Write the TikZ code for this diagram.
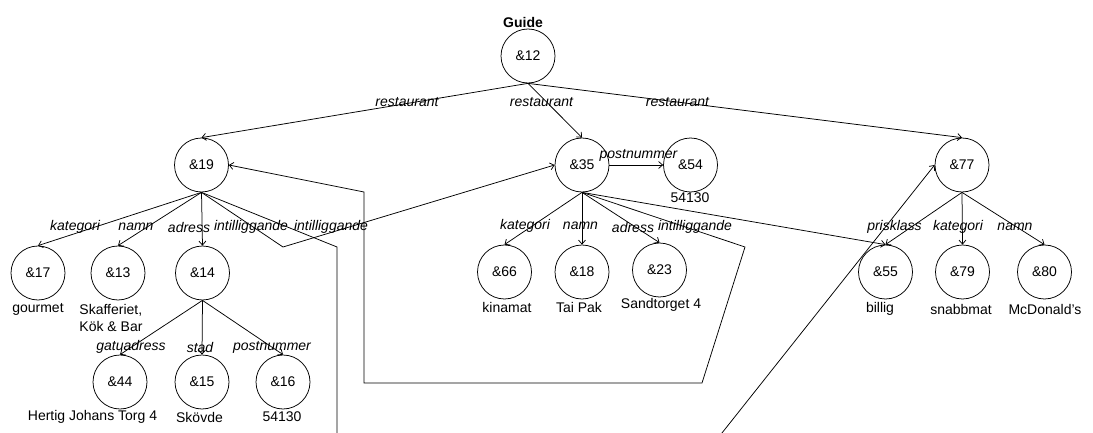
\documentclass[tikz,border=0pt]{standalone}
\usepackage{fontspec}
\setmainfont{Liberation Sans}
\usetikzlibrary{arrows.meta}
\tikzset{
  obj/.style={circle,draw,line width=0.75pt,minimum size=54pt,inner sep=0pt,font=\fontsize{14}{16}\selectfont},
  val/.style={inner sep=0pt,font=\fontsize{14}{17}\selectfont},
  lbl/.style={inner sep=0pt,font=\fontsize{14}{16}\selectfont\itshape},
  edge/.style={draw,line width=0.75pt,-{Straight Barb[length=4pt,width=7pt]}},
}
\begin{document}
\begin{tikzpicture}[x=1pt,y=-1pt]
\path[use as bounding box,clip] (0,0) rectangle (1093,433);
\fill[white] (0,0) rectangle (1093,433);
% objects
\node[obj] (n12) at (528,56) {\&12};
\node[val,font=\fontsize{14}{16}\selectfont\bfseries] (guide) at (523,22) {Guide};
\node[obj] (n19) at (201.5,165) {\&19};
\node[obj] (n35) at (582,165) {\&35};
\node[obj] (n54) at (690.5,165) {\&54};
\node[obj] (n77) at (962,165) {\&77};
\node[obj] (n17) at (38,273) {\&17};
\node[obj] (n13) at (118,273) {\&13};
\node[obj] (n14) at (202.5,273) {\&14};
\node[obj] (n44) at (120,382) {\&44};
\node[obj] (n15) at (202,382) {\&15};
\node[obj] (n16) at (283,382) {\&16};
\node[obj] (n66) at (504.5,272) {\&66};
\node[obj] (n18) at (582,272) {\&18};
\node[obj] (n23) at (659.5,270) {\&23};
\node[obj] (n55) at (885.5,272) {\&55};
\node[obj] (n79) at (962.5,272) {\&79};
\node[obj] (n80) at (1044.5,272) {\&80};
% values
\node[val] (v17) at (38,309) {gourmet};
\node[val,align=left] (v13) at (111,318) {Skafferiet,\\Kök \& Bar};
\node[val] (v44) at (92.5,417) {Hertig Johans Torg 4};
\node[val] (v15) at (199.5,417) {Skövde};
\node[val] (v16) at (282,417) {54130};
\node[val] (v54) at (690,198) {54130};
\node[val] (v66) at (507,307) {kinamat};
\node[val] (v18) at (579,307) {Tai Pak};
\node[val] (v23) at (661,305) {Sandtorget 4};
\node[val] (v55) at (880,309) {billig};
\node[val] (v79) at (961,309) {snabbmat};
\node[val] (v80) at (1045,309) {McDonald's};
% bend points
\coordinate (a1) at (283,247);
\coordinate (b1) at (337,247);
\coordinate (b2) at (337,470);
\coordinate (b3) at (692.6,470);
\coordinate (p1) at (745,247);
\coordinate (p2) at (702,383);
\coordinate (p3) at (364,383);
\coordinate (p4) at (364,192);
% connectors
\path[edge] (n12.south) -- (n19.north);
\path[edge] (n12.south) -- (n35.north);
\path[edge] (n12.south) -- (n77.north);
\path[edge] (n19.south) -- (n17.north);
\path[edge] (n19.south) -- (n13.north);
\path[edge] (n19.south) -- (n14.north);
\path[edge] (n19.south) -- (a1) -- (n35.west);
\path[edge] (n19.south) -- (b1) -- (b2) -- (b3) -- (n77.west);
\path[edge] (n14.south) -- (n44.north);
\path[edge] (n14.south) -- (n15.north);
\path[edge] (n14.south) -- (n16.north);
\path[edge] (n35.east) -- (n54.west);
\path[edge] (n35.south) -- (n66.north);
\path[edge] (n35.south) -- (n18.north);
\path[edge] (n35.south) -- (n23.north);
\path[edge] (n35.south) -- (p1) -- (p2) -- (p3) -- (p4) -- (n19.east);
\path[edge] (n35.south) -- (n55.north);
\path[edge] (n77.south) -- (n55.north);
\path[edge] (n77.south) -- (n79.north);
\path[edge] (n77.south) -- (n80.north);
% edge labels
\node[lbl] (l1) at (407,102) {restaurant};
\node[lbl] (l2) at (541.5,102) {restaurant};
\node[lbl] (l3) at (677.5,102) {restaurant};
\node[lbl] (l4) at (638.5,155) {postnummer};
\node[lbl] (l5) at (75,227) {kategori};
\node[lbl] (l6) at (136,227) {namn};
\node[lbl] (l7) at (189,227) {adress};
\node[lbl] (l8) at (251,227) {intilliggande};
\node[lbl] (l9) at (331,227) {intilliggande};
\node[lbl] (l10) at (525,226) {kategori};
\node[lbl] (l11) at (580.5,226) {namn};
\node[lbl] (l12) at (633,227) {adress};
\node[lbl] (l13) at (695,227) {intilliggande};
\node[lbl] (l14) at (894.5,227) {prisklass};
\node[lbl] (l15) at (958,227) {kategori};
\node[lbl] (l16) at (1015,227) {namn};
\node[lbl] (l17) at (131,347) {gatuadress};
\node[lbl] (l18) at (200,347) {stad};
\node[lbl] (l19) at (272,347) {postnummer};
\end{tikzpicture}
\end{document}
